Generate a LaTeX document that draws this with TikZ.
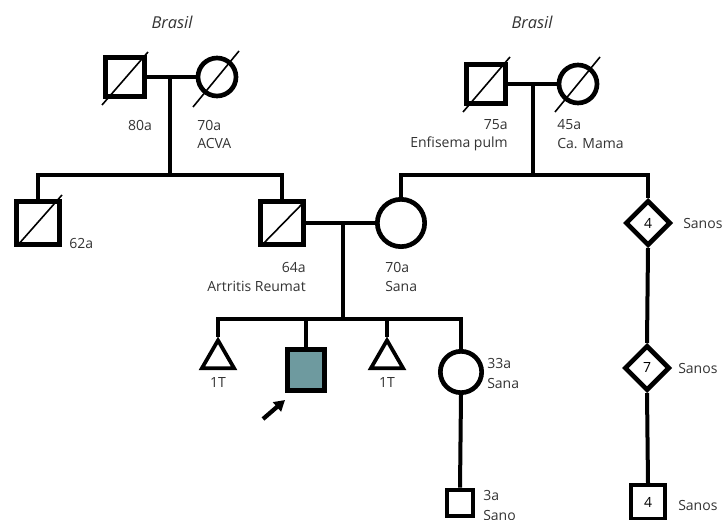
\documentclass[tikz,border=0pt]{standalone}
\usepackage{fontspec}
\setmainfont{Open Sans}
\usepackage{xcolor}
\definecolor{probcol}{HTML}{6E9A9F}
\definecolor{txtcol}{HTML}{333333}
\usepackage{tikz}
\usetikzlibrary{arrows.meta,positioning,calc,shapes.geometric}

\begin{document}
\begin{tikzpicture}[
  x=0.75pt, y=-0.75pt,
  font=\fontsize{10.5}{12}\selectfont,
  male/.style    = {draw, line width=3.5pt, rectangle, inner sep=0pt,
                    minimum size=#1},
  male/.default  = 29.5pt,
  female/.style  = {draw, line width=3.5pt, circle, inner sep=0pt,
                    minimum size=#1},
  female/.default = 28.5pt,
  many/.style    = {draw, line width=3.5pt, diamond, inner sep=0pt,
                    minimum size=34pt},
  loss/.style    = {draw, line width=2.8pt, regular polygon,
                    regular polygon sides=3, inner sep=0pt, minimum size=28pt},
  lbl/.style     = {inner sep=0pt, text=txtcol},
  line/.style    = {line width=3pt},
  slash/.style   = {line width=1.2pt},
  parr/.style    = {-{Triangle[length=8pt, width=9pt]}, line width=3.2pt},
]
\useasboundingbox (0,0) rectangle (724,520);

% grandparents
\node[male]   at (125,77)  (gf1) {};
\node[female] at (217,77)  (gm1) {};
\node[male]   at (486,84)  (gf2) {};
\node[female] at (578,84)  (gm2) {};

% second generation
\node[male=32.5pt]   at (38,223)  (unc) {};
\node[male=32.5pt]   at (282,223) (fa)  {};
\node[female=35.5pt] at (401,223) (mo)  {};
\node[many]          at (648,223) (d4)  {4};
\node[many]          at (647,368) (d7)  {7};

% third generation
\node[loss] at (218,359) (s1) {};
\node[draw, line width=3.5pt, fill=probcol, inner sep=0pt,
      minimum width=27.5pt, minimum height=30.5pt] at (306,370) (pro) {};
\node[loss] at (387,359) (s2) {};
\node[female=31pt] at (461,372) (si) {};

% fourth generation
\node[male=20pt, line width=3pt] at (460,503) (n1) {};
\node[male=25pt, line width=3pt] at (648,502) (n4) {4};

% deceased
\draw[slash] ([shift={(-1,6)}]gf1.south west) -- ([shift={(1,-3)}]gf1.north east);
\draw[slash] ([shift={(-1,6)}]gf2.south west) -- ([shift={(2,-5)}]gf2.north east);
\draw[slash] ([shift={(-24,30)}]gm1.center) -- ([shift={(22,-26)}]gm1.center);
\draw[slash] ([shift={(-23,28)}]gm2.center) -- ([shift={(22,-27)}]gm2.center);
\draw[slash] ([shift={(3,-1)}]unc.south west) -- ([shift={(0,-4)}]unc.north east);
\draw[slash] ([shift={(3,-1)}]fa.south west) -- ([shift={(-1,2)}]fa.north east);

% couples and sibships
\coordinate (sib1) at (170,175);
\coordinate (sib2) at (533,175);
\coordinate (sib3) at (343,319);

\draw[line] (gf1.east) -- (gm1.west);
\draw[line] (sib1 |- gf1.east) -- (sib1);
\draw[line] (unc.north) |- (sib1) -| (fa.north);

\draw[line] (gf2.east) -- (gm2.west);
\draw[line] (sib2 |- gf2.east) -- (sib2);
\draw[line] (mo.north) |- (sib2) -| (d4.north);

\draw[line] (fa.east) -- (mo.west);
\draw[line] (sib3 |- fa.east) -- (sib3);
\draw[line] (s1.north) |- (sib3) -| (si.north);
\draw[line] (pro.north) -- (pro.north |- sib3);
\draw[line] (s2.north) -- (s2.north |- sib3);

\draw[line] (si.south) -- (n1.north);
\draw[line] (d4.south) -- (d7.north);
\draw[line] (d7.south) -- (n4.north);

% proband arrow
\coordinate (ptail) at (263,419);
\coordinate (ptip)  at (285,400);
\draw[parr] (ptail) -- (ptip);

% labels
\node[lbl, font=\fontsize{12.3}{14}\selectfont\itshape] at (172,22) (br1) {Brasil};
\node[lbl, font=\fontsize{12.3}{14}\selectfont\itshape] at (532,22) (br2) {Brasil};

\node[lbl] at (140,125) (l80) {80a};
\node[lbl, anchor=west] at (197,125) (l70) {70a};
\node[lbl, anchor=west] at (197,144) (lacva) {ACVA};
\node[lbl, anchor=east] at (508,125) (l75) {75a};
\node[lbl, anchor=east] at (508,144) (lenf) {Enfisema pulm};
\node[lbl, anchor=west] at (557,125) (l45) {45a};
\node[lbl, anchor=west] at (557,144) (lca) {Ca. Mama};

\node[lbl, anchor=west] at (69,243)  (l62) {62a};
\node[lbl, anchor=east] at (306,267) (l64) {64a};
\node[lbl, anchor=east] at (306,286) (lart) {Artritis Reumat};
\node[lbl, anchor=west] at (385,267) (l70b) {70a};
\node[lbl, anchor=west] at (385,286) (lsana) {Sana};
\node[lbl, anchor=west] at (683,223) (lsn1) {Sanos};
\node[lbl, anchor=west] at (678,368) (lsn2) {Sanos};

\node[lbl] at (218,383) (l1t) {1T};
\node[lbl] at (387,383) (l1tb) {1T};
\node[lbl, anchor=west] at (487,363) (l33) {33a};
\node[lbl, anchor=west] at (487,383) (lsana2) {Sana};

\node[lbl, anchor=west] at (483,495) (l3) {3a};
\node[lbl, anchor=west] at (483,515) (lsano) {Sano};
\node[lbl, anchor=west] at (678,505) (lsn3) {Sanos};
\end{tikzpicture}
\end{document}
